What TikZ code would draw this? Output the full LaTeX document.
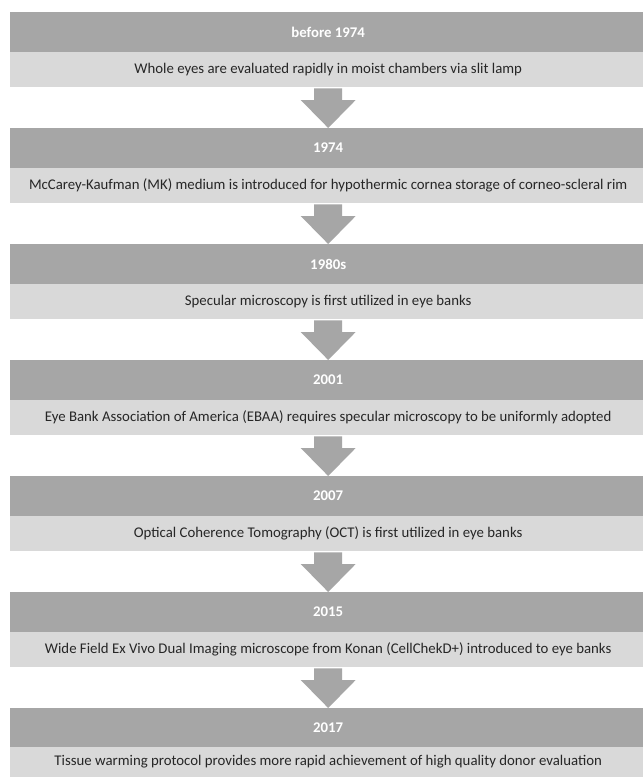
\documentclass[tikz,border=0pt]{standalone}
\usepackage{fontspec}
\setmainfont{Carlito}
\usetikzlibrary{calc}
\definecolor{hdrgray}{HTML}{A6A6A6}
\definecolor{lightgray}{HTML}{D9D9D9}
\definecolor{txtdark}{HTML}{262626}
\tikzset{
  hdr/.style={fill=hdrgray, draw=none, anchor=north west, minimum width=636pt, minimum height=39.5pt, inner sep=0pt, text=white, font=\fontsize{14.8}{17}\selectfont\bfseries},
  lbox/.style={fill=lightgray, draw=none, anchor=north west, minimum width=636pt, minimum height=35.5pt, inner sep=0pt, text=txtdark, font=\fontsize{14.8}{17}\selectfont},
  downarrow/.style={fill=hdrgray, draw=none}
}
\newcommand{\flowarrow}[2]{%
  \fill[downarrow] ($(#1.south)+(-14,1)$) -- ($(#1.south)+(14,1)$) -- ($(#2.north)+(14,-28)$) -- ($(#2.north)+(27.5,-28)$) -- (#2.north) -- ($(#2.north)+(-27.5,-28)$) -- ($(#2.north)+(-14,-28)$) -- cycle;}
\begin{document}
\begin{tikzpicture}[x=1pt,y=-1pt]
\useasboundingbox (0,0) rectangle (643,777);
\clip (0,0) rectangle (643,777);
\fill[white] (0,0) rectangle (643,777);
\node[hdr] (h0) at (10,12) {before 1974};
\node[lbox] (l0) at (10,51.5) {Whole eyes are evaluated rapidly in moist chambers via slit lamp};
\node[hdr] (h1) at (10,128) {1974};
\node[lbox] (l1) at (10,167.5) {McCarey-Kaufman (MK) medium is introduced for hypothermic cornea storage of corneo-scleral rim};
\node[hdr] (h2) at (10,244) {1980s};
\node[lbox] (l2) at (10,283.5) {Specular microscopy is first utilized in eye banks};
\node[hdr] (h3) at (10,360) {2001};
\node[lbox] (l3) at (10,399.5) {Eye Bank Association of America (EBAA) requires specular microscopy to be uniformly adopted};
\node[hdr] (h4) at (10,476) {2007};
\node[lbox] (l4) at (10,515.5) {Optical Coherence Tomography (OCT) is first utilized in eye banks};
\node[hdr] (h5) at (10,592) {2015};
\node[lbox] (l5) at (10,631.5) {Wide Field Ex Vivo Dual Imaging microscope from Konan (CellChekD+) introduced to eye banks};
\node[hdr] (h6) at (10,708) {2017};
\node[lbox, minimum height=30.5pt] (l6) at (10,746.5) {Tissue warming protocol provides more rapid achievement of high quality donor evaluation};
\flowarrow{l0}{h1}
\flowarrow{l1}{h2}
\flowarrow{l2}{h3}
\flowarrow{l3}{h4}
\flowarrow{l4}{h5}
\flowarrow{l5}{h6}
\end{tikzpicture}
\end{document}
